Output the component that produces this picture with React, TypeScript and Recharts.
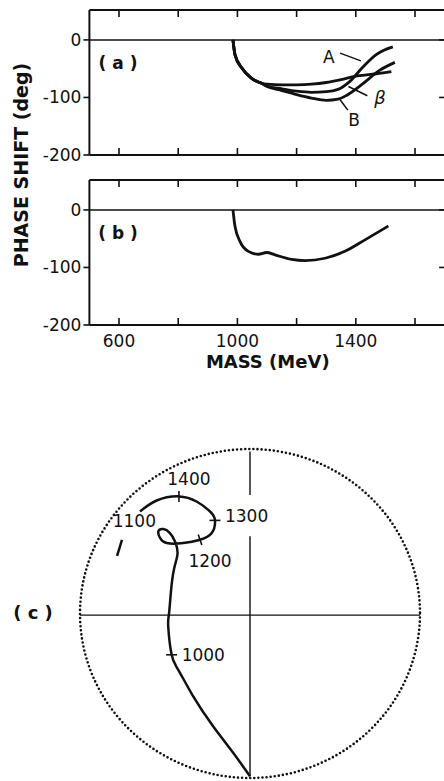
import React from "react";
import {
  LineChart,
  ComposedChart,
  Line,
  Scatter,
  XAxis,
  YAxis,
  ReferenceLine,
  ReferenceDot,
  ReferenceArea,
} from "recharts";

// ---- panel (a): three solutions, phase shift (deg) vs mass (MeV)
const massA = [985, 992, 1015, 1048, 1080, 1100, 1150, 1200, 1250, 1300, 1340, 1380, 1424, 1470, 1525];
const phaseA = [0, -26, -49, -67, -75, -80, -85, -89, -91, -90, -86, -72, -47, -25, -12];
const massB = [985, 992, 1015, 1048, 1080, 1100, 1150, 1200, 1250, 1300, 1340, 1370, 1424, 1480, 1532];
const phaseB = [0, -26, -49, -67, -75, -81, -88, -95, -101, -105, -103, -96, -76, -53, -39];
const massBeta = [985, 992, 1015, 1048, 1080, 1100, 1150, 1200, 1250, 1300, 1350, 1400, 1450, 1520];
const phaseBeta = [0, -26, -49, -67, -75, -77, -78, -78, -77, -74, -69, -63, -60, -55];

// ---- panel (b)
const massPanelB = [985, 992, 1009, 1037, 1071, 1099, 1127, 1183, 1228, 1296, 1363, 1431, 1510];
const phasePanelB = [0, -29, -55, -72, -77, -74, -78, -86, -88, -84, -72, -52, -28];

// ---- panel (c): Argand plot
const argandRe = [0, -0.098, -0.216, -0.334, -0.422, -0.461, -0.481, -0.476, -0.461, -0.441, -0.426, -0.441, -0.471, -0.51, -0.539, -0.529, -0.49, -0.392, -0.294, -0.225, -0.206, -0.235, -0.314, -0.418, -0.549, -0.647];
const argandIm = [-0.99, -0.848, -0.687, -0.504, -0.342, -0.251, -0.079, 0.003, 0.175, 0.296, 0.369, 0.438, 0.489, 0.513, 0.499, 0.459, 0.428, 0.428, 0.448, 0.489, 0.566, 0.62, 0.681, 0.712, 0.687, 0.62];
const tailRe = [-0.753, -0.782];
const tailIm = [0.448, 0.351];
const markMass = [1000, 1100, 1200, 1300, 1400];
const markRe = [-0.461, -0.539, -0.294, -0.206, -0.418];
const markIm = [-0.251, 0.499, 0.448, 0.566, 0.712];

// axis ticks
const massTicks = [600, 800, 1000, 1200, 1400, 1600];
const massLabels = [600, 1000, 1400];
const phaseTicks = [-200, -100, 0];

const X_DOMAIN: [number, number] = [500, 1705];
const Y_DOMAIN: [number, number] = [-200, 52];
const FONT = '"DejaVu Sans", Verdana, sans-serif';
const INK = "#111";

const pts = (xs: number[], ys: number[]) => xs.map((m, i) => ({ m, d: ys[i] }));
const cpts = (xs: number[], ys: number[]) => xs.map((u, i) => ({ u, v: ys[i] }));

// label offsets / tick angle for mass marks on the Argand curve
const markStyle: Record<number, { a: number; len: number; dx: number; dy: number; anchor: string }> = {
  1000: { a: 0, len: 11, dx: 10, dy: 0, anchor: "start" },
  1100: { a: 0, len: 0, dx: -24, dy: -10, anchor: "middle" },
  1200: { a: 71, len: 11, dx: 10, dy: 21, anchor: "middle" },
  1300: { a: 0, len: 11, dx: 10, dy: -4, anchor: "start" },
  1400: { a: 90, len: 11, dx: 10, dy: -17, anchor: "middle" },
};

const MassMark = (p: any) => {
  const s = markStyle[p.payload.mass];
  const r = (s.a * Math.PI) / 180;
  const hx = (Math.cos(r) * s.len) / 2;
  const hy = (Math.sin(r) * s.len) / 2;
  return (
    <g>
      {s.len > 0 && (
        <line x1={p.cx - hx} y1={p.cy - hy} x2={p.cx + hx} y2={p.cy + hy} stroke={INK} strokeWidth={1.6} />
      )}
      <text
        x={p.cx + s.dx}
        y={p.cy + s.dy}
        textAnchor={s.anchor as any}
        dominantBaseline="central"
        fontSize={17}
        fontFamily={FONT}
        fill={INK}
      >
        {p.payload.mass}
      </text>
    </g>
  );
};

const DottedCircle = (p: any) => (
  <ellipse
    cx={p.x + p.width / 2}
    cy={p.y + p.height / 2}
    rx={p.width / 2}
    ry={p.height / 2}
    fill="none"
    stroke={INK}
    strokeWidth={2.6}
    strokeLinecap="round"
    strokeDasharray="0 4.1"
  />
);

const tickFont = { fill: INK, fontSize: 17, fontFamily: FONT };
const noLabel = () => <g />;

function frameAxes() {
  return [
    <XAxis key="xb" xAxisId={0} type="number" dataKey="m" domain={X_DOMAIN} allowDataOverflow ticks={massTicks} interval={0}
      mirror tick={noLabel} tickSize={7} stroke={INK} axisLine={{ strokeWidth: 2 }} tickLine={{ strokeWidth: 1.6 }} />,
    <XAxis key="xt" xAxisId="top" orientation="top" type="number" dataKey="m" domain={X_DOMAIN} allowDataOverflow ticks={massTicks} interval={0}
      mirror tick={noLabel} tickSize={7} stroke={INK} axisLine={{ strokeWidth: 2 }} tickLine={{ strokeWidth: 1.6 }} />,
    <YAxis key="yl" yAxisId={0} type="number" domain={Y_DOMAIN} allowDataOverflow ticks={phaseTicks} interval={0} width={89.4} tickSize={6}
      tickMargin={2} stroke={INK} tick={tickFont} axisLine={{ strokeWidth: 2 }} tickLine={{ strokeWidth: 1.6 }} />,
    <YAxis key="yr" yAxisId="right" orientation="right" type="number" domain={Y_DOMAIN} allowDataOverflow ticks={phaseTicks} interval={0}
      mirror tick={noLabel} tickSize={7} stroke={INK} axisLine={{ strokeWidth: 2 }} tickLine={{ strokeWidth: 1.6 }} />,
    <ReferenceLine key="zero" y={0} stroke={INK} strokeWidth={1.5} />,
  ];
}

const curve = { type: "monotone" as const, dataKey: "d", stroke: INK, strokeWidth: 2.8, dot: false, isAnimationActive: false };

const abs = (left: number, top: number): React.CSSProperties => ({ position: "absolute", left, top });

const textLabel = (x: number, y: number, s: string, size: number) => (
  <div
    style={{
      position: "absolute",
      left: x,
      top: y,
      transform: "translate(-50%, -50%)",
      fontFamily: FONT,
      fontSize: size,
      fontWeight: 700,
      lineHeight: 1,
      whiteSpace: "pre",
      color: INK,
    }}
  >
    {s}
  </div>
);

export default function App() {
  const dataA = pts(massA, phaseA);
  const dataPanelB = pts(massPanelB, phasePanelB);
  return (
    <div style={{ position: "absolute", left: 0, top: 0, width: 444, height: 781, overflow: "hidden", background: "#fff" }}>
      {/* (a) */}
      <div style={abs(0, 0)}>
        <LineChart width={460} height={170} data={dataA} margin={{ top: 10, right: 13.9, bottom: 15, left: 0 }}>
          {frameAxes()}
          <Line {...curve} data={pts(massBeta, phaseBeta)} />
          <Line {...curve} data={pts(massB, phaseB)} />
          <Line {...curve} />
          <Line {...curve} xAxisId="top" stroke="none" />
          <ReferenceLine segment={[{ x: 1347, y: -23 }, { x: 1417, y: -36.5 }]} stroke={INK} strokeWidth={1.5} />
          <ReferenceLine segment={[{ x: 1375, y: -81 }, { x: 1439, y: -97 }]} stroke={INK} strokeWidth={1.5} />
          <ReferenceLine segment={[{ x: 1347, y: -104 }, { x: 1373, y: -122 }]} stroke={INK} strokeWidth={1.5} />
          <ReferenceDot x={1309} y={-30} r={0} stroke="none"
            label={{ value: "A", position: "center", fontSize: 17, fontFamily: FONT, fill: INK }} />
          <ReferenceDot x={1482} y={-101} r={0} stroke="none"
            label={{ value: "β", position: "center", fontSize: 18, fontFamily: FONT, fill: INK, fontStyle: "italic" }} />
          <ReferenceDot x={1394} y={-139} r={0} stroke="none"
            label={{ value: "B", position: "center", fontSize: 17, fontFamily: FONT, fill: INK }} />
        </LineChart>
      </div>

      {/* (b) */}
      <div style={abs(0, 170)}>
        <LineChart width={460} height={205} data={dataPanelB} margin={{ top: 10, right: 13.9, bottom: 0, left: 0 }}>
          {frameAxes()}
          <XAxis xAxisId="lbl" type="number" dataKey="m" domain={X_DOMAIN} allowDataOverflow ticks={massLabels} interval={0}
            axisLine={false} tickLine={false} tickSize={0} tickMargin={10} height={50} tick={tickFont}
            label={{ value: "MASS (MeV)", position: "insideBottom", offset: 7, fontSize: 18, fontWeight: 700, fontFamily: FONT, fill: INK }} />
          <Line {...curve} />
          <Line {...curve} xAxisId="top" stroke="none" />
          <Line {...curve} xAxisId="lbl" stroke="none" />
        </LineChart>
      </div>

      {/* (c) */}
      <div style={abs(0, 440)}>
        <ComposedChart width={444} height={341} margin={{ top: 9, right: 24, bottom: 3, left: 80 }}>
          <XAxis type="number" dataKey="u" domain={[-1, 1]} allowDataOverflow hide />
          <YAxis type="number" dataKey="v" domain={[-1, 1]} allowDataOverflow hide />
          <ReferenceArea x1={-1} x2={1} y1={-1} y2={1} shape={DottedCircle} />
          <ReferenceLine segment={[{ x: -1, y: -0.01 }, { x: 1, y: -0.01 }]} stroke={INK} strokeWidth={1.4} />
          <ReferenceLine segment={[{ x: 0, y: 0.985 }, { x: 0, y: 0.72 }]} stroke={INK} strokeWidth={1.4} />
          <ReferenceLine segment={[{ x: 0, y: 0.47 }, { x: 0, y: -0.99 }]} stroke={INK} strokeWidth={1.4} />
          <Line data={cpts(argandRe, argandIm)} dataKey="v" type="natural" stroke={INK} strokeWidth={2.5} dot={false} isAnimationActive={false} />
          <Line data={cpts(tailRe, tailIm)} dataKey="v" type="linear" stroke={INK} strokeWidth={2.5} dot={false} isAnimationActive={false} />
          <Scatter data={markMass.map((mass, i) => ({ mass, u: markRe[i], v: markIm[i] }))} shape={MassMark} isAnimationActive={false} />
        </ComposedChart>
      </div>

      <svg width={44} height={330} style={{ position: "absolute", left: 0, top: 0 }}>
        <text
          transform="translate(28, 165) rotate(-90)"
          textAnchor="middle"
          fontFamily={FONT}
          fontSize={19}
          fontWeight={700}
          fill={INK}
        >
          PHASE SHIFT (deg)
        </text>
      </svg>
      {textLabel(118, 63, "( a )", 17)}
      {textLabel(118, 233, "( b )", 17)}
      {textLabel(33, 613, "( c )", 18)}
    </div>
  );
}
